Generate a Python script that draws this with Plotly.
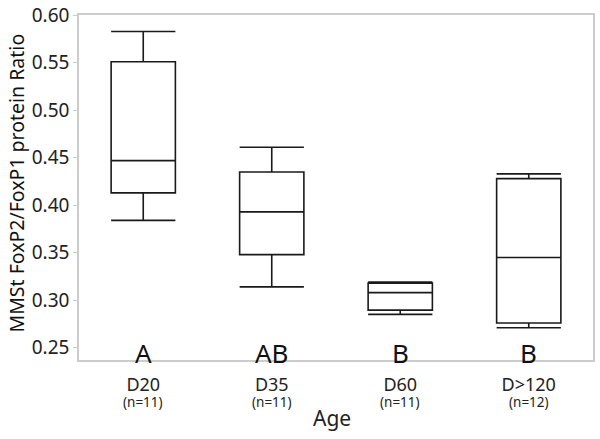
import plotly.graph_objects as go

categories = ["D20", "D35", "D60", "D>120"]
n_counts = [11, 11, 11, 12]
lower_whisker = [0.384, 0.314, 0.285, 0.271]
q1_vals = [0.413, 0.348, 0.2895, 0.276]
median_vals = [0.447, 0.393, 0.308, 0.345]
q3_vals = [0.551, 0.435, 0.318, 0.428]
upper_whisker = [0.583, 0.461, 0.319, 0.433]
group_letters = ["A", "AB", "B", "B"]
letter_y = 0.244
y_ticks = [0.25, 0.30, 0.35, 0.40, 0.45, 0.50, 0.55, 0.60]

FONT = "Noto Sans, Open Sans, DejaVu Sans, sans-serif"
x_pos = list(range(len(categories)))

fig = go.Figure()
fig.add_trace(go.Box(
    x=x_pos,
    q1=q1_vals, median=median_vals, q3=q3_vals,
    lowerfence=lower_whisker, upperfence=upper_whisker,
    width=0.5, whiskerwidth=1,
    fillcolor="white",
    line=dict(color="#1a1a1a", width=1.6),
    boxpoints=False,
    showlegend=False,
))

for i, letter in enumerate(group_letters):
    fig.add_annotation(x=x_pos[i], y=letter_y, text=letter, showarrow=False,
                       xref="x", yref="y", yanchor="middle",
                       font=dict(family=FONT, size=26, color="#111111"))

# sample-size sub-labels under each category tick
for i, n in enumerate(n_counts):
    fig.add_annotation(x=x_pos[i], y=0, xref="x", yref="paper",
                       text=f"(n={n})", showarrow=False, yanchor="middle",
                       yshift=-42, font=dict(family=FONT, size=13.5, color="#222222"))

# axis titles
fig.add_annotation(x=0.5, y=0, xref="paper", yref="paper", text="Age",
                   showarrow=False, yanchor="middle", yshift=-58, xshift=-4,
                   font=dict(family=FONT, size=21, color="#222222"))
fig.add_annotation(x=0, y=0.5, xref="paper", yref="paper",
                   text="MMSt FoxP2/FoxP1 protein Ratio", textangle=-90,
                   showarrow=False, xanchor="center", yanchor="middle",
                   xshift=-63, yshift=4,
                   font=dict(family=FONT, size=19.5, color="#111111"))

fig.update_layout(
    width=600, height=439,
    margin=dict(l=79, r=7, t=15, b=79),
    paper_bgcolor="white", plot_bgcolor="white",
    font=dict(family=FONT, color="#222222"),
    xaxis=dict(
        range=[-0.5, 3.5], tickvals=x_pos, ticktext=categories,
        showgrid=False, zeroline=False, showline=True, mirror=True,
        linecolor="#cccccc", linewidth=1.5, ticks="", automargin=False,
        ticklabelstandoff=8,
        tickfont=dict(size=18, color="#222222"),
    ),
    yaxis=dict(
        range=[0.237, 0.6003], tickvals=y_ticks,
        tickformat=".2f", automargin=False, ticklabeloverflow="allow",
        showgrid=False, zeroline=False, showline=True, mirror=True,
        linecolor="#cccccc", linewidth=1.5, ticks="outside", ticklen=4,
        tickcolor="#cccccc",
        tickfont=dict(size=19, color="#222222"),
    ),
)

# remove the browser's default 8px body margin so the 600x439 figure fills the window
fig.write_html("out.html", config={"displayModeBar": False},
               post_script="document.body.style.margin='0px';")
